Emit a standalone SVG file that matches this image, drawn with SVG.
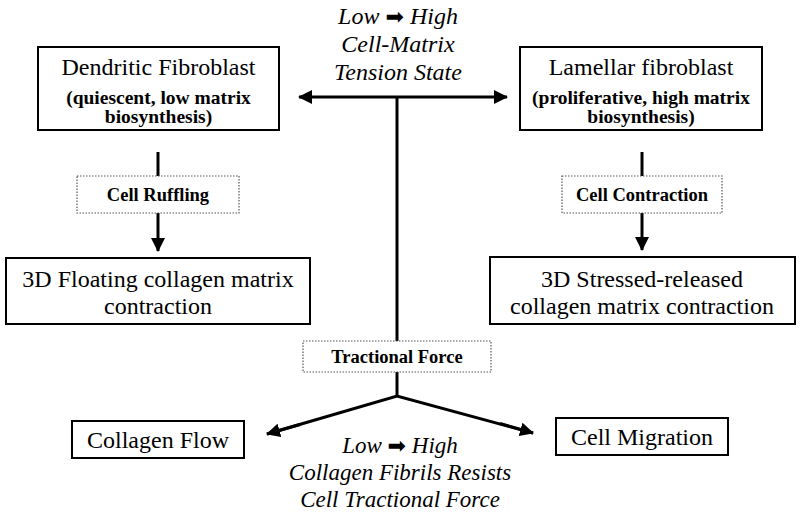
<svg xmlns="http://www.w3.org/2000/svg" width="800" height="518" viewBox="0 0 800 518">
<style>
.box{fill:#fff;stroke:#000;stroke-width:2}
.dbox{fill:#fff;stroke:#555;stroke-width:1.2;stroke-dasharray:1.5 1.5}
.ln{stroke:#000;stroke-width:3;fill:none}
text{font-family:'Liberation Serif','Times New Roman',Tinos,'DejaVu Serif',serif;fill:#000;text-anchor:middle}
.t{font-size:24px}
.b{font-size:19.5px;font-weight:bold}
.s{font-size:18.5px;font-weight:bold}
.i{font-style:italic}
.ar{font-family:'DejaVu Sans',sans-serif;font-style:normal;font-size:22px}
</style>
<defs>
<marker id="ah" viewBox="0 0 14 14" refX="13" refY="7" markerWidth="14" markerHeight="14" markerUnits="userSpaceOnUse" orient="auto">
<path d="M0,0 L14,7 L0,14 Z" fill="#000"/>
</marker>
</defs>

<g id="connectors">
<line class="ln" x1="397" y1="97" x2="397" y2="341"/>
<line class="ln" x1="397" y1="372" x2="397" y2="396"/>
<line class="ln" x1="397" y1="97" x2="299" y2="97" marker-end="url(#ah)"/>
<line class="ln" x1="397" y1="97" x2="507" y2="97" marker-end="url(#ah)"/>
<line class="ln" x1="158" y1="152" x2="158" y2="176"/>
<line class="ln" x1="158" y1="213" x2="158" y2="251" marker-end="url(#ah)"/>
<line class="ln" x1="642" y1="152" x2="642" y2="176"/>
<line class="ln" x1="642" y1="213" x2="642" y2="250" marker-end="url(#ah)"/>
<polyline class="ln" points="267,434 397,396 533,433" stroke-linejoin="miter"/>
<line class="ln" x1="300" y1="424.5" x2="267" y2="434" marker-end="url(#ah)"/>
<line class="ln" x1="500" y1="423.5" x2="533" y2="433" marker-end="url(#ah)"/>
</g>

<g id="tension-label">
<text class="i" x="398" y="24" font-size="24">Low <tspan class="ar">➡</tspan> High</text>
<text class="i" x="398" y="52" font-size="24">Cell-Matrix</text>
<text class="i" x="398" y="80" font-size="24">Tension State</text>
</g>

<g id="dendritic">
<rect class="box" x="38" y="47" width="241" height="83"/>
<text class="t" x="158.5" y="75">Dendritic Fibroblast</text>
<text class="b" x="158.5" y="104">(quiescent, low matrix</text>
<text class="b" x="158.5" y="123">biosynthesis)</text>
</g>

<g id="lamellar">
<rect class="box" x="520" y="47" width="242" height="83"/>
<text class="t" x="641" y="75">Lamellar fibroblast</text>
<text class="b" x="641" y="104">(proliferative, high matrix</text>
<text class="b" x="641" y="123">biosynthesis)</text>
</g>

<g id="cell-ruffling">
<rect class="dbox" x="77" y="176" width="162" height="37"/>
<text class="s" x="158" y="201">Cell Ruffling</text>
</g>

<g id="cell-contraction">
<rect class="dbox" x="562" y="176" width="160" height="37"/>
<text class="s" x="642" y="201">Cell Contraction</text>
</g>

<g id="floating">
<rect class="box" x="6" y="258" width="304" height="66"/>
<text class="t" x="158" y="287">3D Floating collagen matrix</text>
<text class="t" x="158" y="314">contraction</text>
</g>

<g id="stressed">
<rect class="box" x="490" y="257" width="305" height="67"/>
<text class="t" x="642" y="287">3D Stressed-released</text>
<text class="t" x="642" y="314">collagen matrix contraction</text>
</g>

<g id="tractional">
<rect class="dbox" x="303" y="341" width="188" height="31"/>
<text class="s" x="397" y="363">Tractional Force</text>
</g>

<g id="collagen-flow">
<rect class="box" x="72" y="421" width="172" height="37"/>
<text class="t" x="158" y="448">Collagen Flow</text>
</g>

<g id="cell-migration">
<rect class="box" x="556" y="418" width="172" height="37"/>
<text class="t" x="642" y="445">Cell Migration</text>
</g>

<g id="resist-label">
<text class="i" x="400" y="453" font-size="23">Low <tspan class="ar">➡</tspan> High</text>
<text class="i" x="400" y="480" font-size="23">Collagen Fibrils Resists</text>
<text class="i" x="400" y="507" font-size="23">Cell Tractional Force</text>
</g>
</svg>
